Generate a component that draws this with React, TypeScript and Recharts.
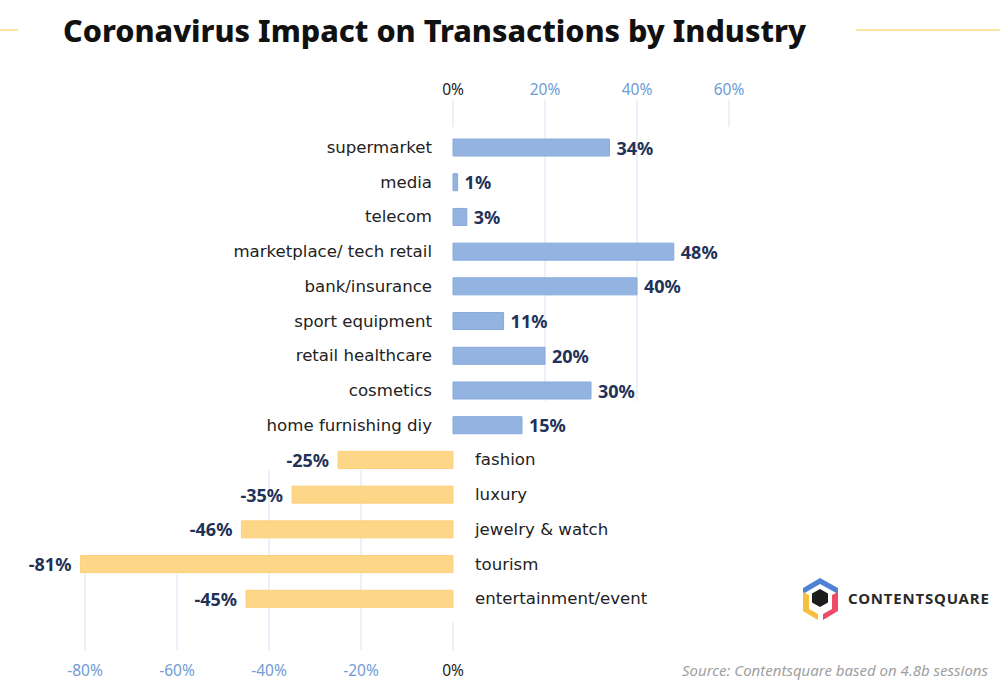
import React from 'react';
import { BarChart, Bar, XAxis, YAxis, Cell, LabelList, ReferenceLine } from 'recharts';

// industries, top to bottom
const categories = [
  'supermarket',
  'media',
  'telecom',
  'marketplace/ tech retail',
  'bank/insurance',
  'sport equipment',
  'retail healthcare',
  'cosmetics',
  'home furnishing diy',
  'fashion',
  'luxury',
  'jewelry & watch',
  'tourism',
  'entertainment/event',
];

// change in transactions, %
const values = [34, 1, 3, 48, 40, 11, 20, 30, 15, -25, -35, -46, -81, -45];

const topTicks = [0, 20, 40, 60];
const bottomTicks = [-80, -60, -40, -20, 0];

const data = categories.map((name, i) => ({ name, value: values[i] }));

const BLUE = '#93b4e1';
const BLUE_EDGE = '#86a9dc';
const YELLOW = '#fed688';
const YELLOW_EDGE = '#fcd07a';
const NAVY = '#223156';
const GRID = '#e3ecf9';
const FONT = '"Noto Sans", sans-serif';
const LABEL_FONT = '"DejaVu Sans", sans-serif';

const box = (props: any) => {
  const vb = props.viewBox ?? props;
  return { x: vb.x, y: vb.y, width: vb.width, height: vb.height };
};

// category name next to the zero line
const NameLabel = (props: any) => {
  const { x, y, width, height } = box(props);
  const v = values[props.index];
  const zero = v >= 0 ? Math.min(x, x + width) : Math.max(x, x + width);
  const cy = y + height / 2;
  return (
    <text
      x={v >= 0 ? zero - 21 : zero + 22}
      y={cy}
      textAnchor={v >= 0 ? 'end' : 'start'}
      dominantBaseline="central"
      fontFamily={LABEL_FONT}
      fontSize={16.6}
      fill="#222"
    >
      {categories[props.index]}
    </text>
  );
};

// value at the bar end
const ValueLabel = (props: any) => {
  const { x, y, width, height } = box(props);
  const v = values[props.index];
  const end = v >= 0 ? Math.max(x, x + width) : Math.min(x, x + width);
  return (
    <text
      x={v >= 0 ? end + 7 : end - 9}
      y={y + height / 2}
      textAnchor={v >= 0 ? 'start' : 'end'}
      dominantBaseline="central"
      fontFamily={FONT}
      fontSize={18}
      fontWeight={700}
      fill={NAVY}
    >
      {`${v}%`}
    </text>
  );
};

const TopTick = (props: any) => {
  const { x, y, payload } = props;
  return (
    <text x={x} y={y - 41} textAnchor="middle" dominantBaseline="central" fontFamily={FONT} fontSize={15.5}
      fill={payload.value === 0 ? '#222' : '#6f9bd6'}>
      {`${payload.value}%`}
    </text>
  );
};

const BottomTick = (props: any) => {
  const { x, y, payload } = props;
  return (
    <text x={x} y={y + 54} textAnchor="middle" dominantBaseline="central" fontFamily={FONT} fontSize={15.5}
      fill={payload.value === 0 ? '#222' : '#6f9bd6'}>
      {`${payload.value}%`}
    </text>
  );
};

// faint vertical guides, on a hidden 0..14 y axis (0 = top of plot)
const guides = [
  { x: 0, y1: -0.8, y2: -0.08 },
  { x: 20, y1: -0.8, y2: 7.25 },
  { x: 40, y1: -0.8, y2: 7.25 },
  { x: 60, y1: -0.8, y2: -0.08 },
  { x: -20, y1: 9.1, y2: 13.92 },
  { x: -40, y1: 9.1, y2: 13.92 },
  { x: -60, y1: 11.86, y2: 13.92 },
  { x: -80, y1: 11.86, y2: 13.92 },
  { x: 0, y1: 13.17, y2: 13.92 },
];

export default function App() {
  return (
    <div style={{ position: 'absolute', left: 0, top: 0, width: 1000, height: 691, background: '#fff' }}>
      <BarChart
        width={1000}
        height={691}
        data={data}
        layout="vertical"
        margin={{ top: 90, right: 248, bottom: 35, left: 62 }}
        barSize={17}
      >
        <XAxis type="number" domain={[-85, 65]} allowDataOverflow ticks={bottomTicks} interval={0} axisLine={false}
          tickLine={false} tickSize={0} tickMargin={0} height={40} tick={<BottomTick />} />
        <XAxis xAxisId="top" orientation="top" type="number" domain={[-85, 65]} allowDataOverflow ticks={topTicks}
          interval={0} axisLine={false} tickLine={false} tickSize={0} tickMargin={0} height={40}
          tick={<TopTick />} />
        <YAxis type="category" dataKey="name" hide />
        <YAxis yAxisId="grid" type="number" scale="linear" domain={[0, 14]} hide allowDataOverflow />
        {guides.map((g, i) => (
          <ReferenceLine key={`g-${i}`} yAxisId="grid" ifOverflow="visible" stroke={GRID} strokeWidth={1.5}
            zIndex={0} segment={[{ x: g.x, y: g.y1 }, { x: g.x, y: g.y2 }]} />
        ))}
        <Bar dataKey="value" isAnimationActive={false}>
          {data.map((d, i) => (
            <Cell key={`c-${i}`} fill={d.value >= 0 ? BLUE : YELLOW} stroke={d.value >= 0 ? BLUE_EDGE : YELLOW_EDGE} />
          ))}
          <LabelList dataKey="name" content={<NameLabel />} />
          <LabelList dataKey="value" content={<ValueLabel />} />
        </Bar>
      </BarChart>

      <svg width={1000} height={691} style={{ position: 'absolute', left: 0, top: 0, pointerEvents: 'none' }}>
        <line x1={0} y1={30} x2={18} y2={30} stroke="#fde3a2" strokeWidth={2} />
        <line x1={856} y1={30} x2={1000} y2={30} stroke="#fde3a2" strokeWidth={2} />
        <text x={63} y={30} dominantBaseline="central" fontFamily={FONT} fontSize={30.5} fontWeight={800}
          fill="#111">
          Coronavirus Impact on Transactions by Industry
        </text>

        <g>
          <polygon points="803,588 820,578 838,588 838,594 820,584 803,594" fill="#4f82d4" />
          <polygon points="803,592 809,595 809,609 818,614 818,620 803,611" fill="#f7bd3e" />
          <polygon points="838,592 832,595 832,609 823,614 823,620 838,611" fill="#ee4a6a" />
          <polygon points="820,589 828,593.5 828,602.5 820,607 812,602.5 812,593.5" fill="#1c1c1c" />
        </g>
        <text x={848} y={598} dominantBaseline="central" fontFamily={FONT} fontSize={15} fontWeight={700}
          letterSpacing={0.8} fill="#2a2a2a">
          CONTENTSQUARE
        </text>
        <text x={988} y={670} textAnchor="end" dominantBaseline="central" fontFamily={FONT} fontSize={15}
          fontStyle="italic" fill="#a0a0a0">
          Source: Contentsquare based on 4.8b sessions
        </text>
      </svg>
    </div>
  );
}
